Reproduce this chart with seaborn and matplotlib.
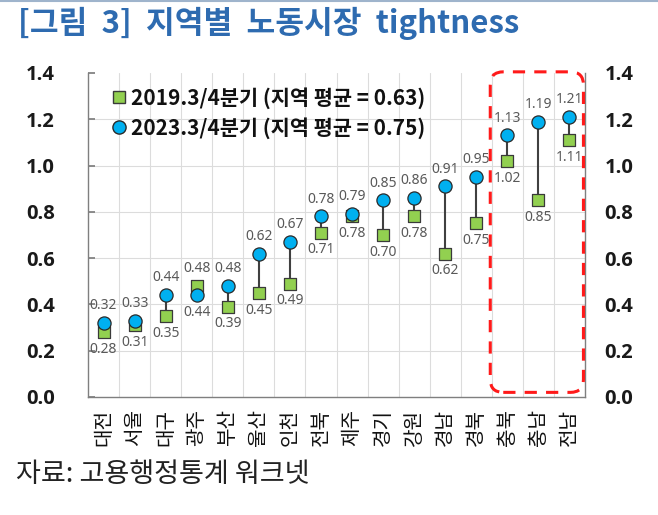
import matplotlib
matplotlib.use("Agg")
import matplotlib.pyplot as plt
import seaborn as sns
import pandas as pd
import numpy as np
from matplotlib.patches import FancyBboxPatch
from matplotlib.lines import Line2D

regions = ["대전", "서울", "대구", "광주", "부산", "울산", "인천", "전북",
           "제주", "경기", "강원", "경남", "경북", "충북", "충남", "전남"]
v2019 = [0.28, 0.31, 0.35, 0.48, 0.39, 0.45, 0.49, 0.71,
         0.78, 0.70, 0.78, 0.62, 0.75, 1.02, 0.85, 1.11]
v2023 = [0.32, 0.33, 0.44, 0.44, 0.48, 0.62, 0.67, 0.78,
         0.79, 0.85, 0.86, 0.91, 0.95, 1.13, 1.19, 1.21]
legend_labels = ["2019.3/4분기 (지역 평균 = 0.63)", "2023.3/4분기 (지역 평균 = 0.75)"]
yticks = [0.0, 0.2, 0.4, 0.6, 0.8, 1.0, 1.2, 1.4]
highlight = ["충북", "충남", "전남"]
title = "[그림  3]  지역별  노동시장  tightness"
source = "자료: 고용행정통계 워크넷"

sns.set_theme(style="white")
plt.rcParams['font.family'] = ['Noto Sans CJK KR', 'DejaVu Sans']

df = pd.DataFrame({"region": regions, "v2019": v2019, "v2023": v2023})
df["x"] = np.arange(len(regions))

fig = plt.figure(figsize=(6.58, 5.15), dpi=100)
ax = fig.add_axes([88/658, 1-397/515, (585-88)/658, (397-73)/515])

ax.set_xlim(-0.5, len(regions)-0.5)
ax.set_ylim(0, 1.4)

# connectors
ax.vlines(df["x"], df[["v2019", "v2023"]].min(axis=1), df[["v2019", "v2023"]].max(axis=1),
          color="#404040", lw=1.5, zorder=2)

sns.scatterplot(data=df, x="x", y="v2019", marker="s", s=72, color="#92D050",
                edgecolor="#3a3a3a", linewidth=0.9, ax=ax, zorder=3, legend=False)
sns.scatterplot(data=df, x="x", y="v2023", marker="o", s=90, color="#00B0F0",
                edgecolor="#2a2a2a", linewidth=0.9, ax=ax, zorder=4, legend=False)

# data labels
for i, r in df.iterrows():
    hi, lo = (r.v2023, r.v2019) if r.v2023 >= r.v2019 else (r.v2019, r.v2023)
    ax.annotate(f"{hi:.2f}", (r.x, hi), xytext=(0, 7), textcoords="offset points",
                ha="center", va="bottom", fontsize=10, color="#595959", zorder=5,
                family=["Noto Sans", "DejaVu Sans"])
    ax.annotate(f"{lo:.2f}", (r.x, lo), xytext=(0, -7), textcoords="offset points",
                ha="center", va="top", fontsize=10, color="#595959", zorder=5,
                family=["Noto Sans", "DejaVu Sans"])

# grid
ax.set_yticks(yticks)
ax.set_yticklabels([f"{t:.1f}" for t in yticks])
ax.set_xticks(df["x"])
ax.set_xticklabels(df["region"], rotation=90, fontsize=14.5, color="#111111")
ax.grid(False)
for y in yticks[1:-1]:
    ax.axhline(y, color="#dcdcdc", lw=0.8, zorder=0)
for xb in np.arange(0.5, len(regions)-0.5):
    ax.axvline(xb, color="#dcdcdc", lw=0.8, zorder=0)

ax.set_xlabel("")
ax.set_ylabel("")
for side in ["left", "right", "bottom"]:
    ax.spines[side].set_visible(True)
    ax.spines[side].set_color("#7f7f7f")
    ax.spines[side].set_linewidth(1.0)
ax.spines["top"].set_visible(False)

tick_font = ["Open Sans", "DejaVu Sans"]
ax.tick_params(axis="y", which="major", direction="in", length=5, color="#7f7f7f",
               left=True, right=True, labelleft=True, labelright=False, pad=24)
ax.tick_params(axis="x", which="both", length=0, pad=9)
for lab in ax.get_yticklabels():
    lab.set_fontsize(14.5)
    lab.set_fontweight("bold")
    lab.set_family(tick_font)
    lab.set_color("#1a1a1a")

# right axis labels
ax2 = ax.twinx()
ax2.set_ylim(ax.get_ylim())
ax2.set_yticks(yticks)
ax2.set_yticklabels([f"{t:.1f}" for t in yticks])
ax2.tick_params(axis="y", length=0, pad=14)
ax2.grid(False)
for s in ax2.spines.values():
    s.set_visible(False)
for lab in ax2.get_yticklabels():
    lab.set_fontsize(14.5)
    lab.set_fontweight("bold")
    lab.set_family(tick_font)
    lab.set_color("#1a1a1a")

# legend
handles = [Line2D([], [], marker="s", ls="", markersize=8.5, markerfacecolor="#92D050",
                  markeredgecolor="#3a3a3a"),
           Line2D([], [], marker="o", ls="", markersize=9.5, markerfacecolor="#00B0F0",
                  markeredgecolor="#2a2a2a")]
leg = ax.legend(handles, legend_labels, loc="upper left", bbox_to_anchor=(0.005, 1.015),
                frameon=False, handletextpad=0.15, handlelength=0.9, labelspacing=0.4,
                prop={"size": 15, "weight": "bold", "family": ["Noto Sans CJK KR"]})
for t in leg.get_texts():
    t.set_color("#111111")

# highlight box
fig.canvas.draw()
idx = [regions.index(h) for h in highlight]
x0 = min(idx) - 0.55
x1 = max(idx) + 0.45
(px0, py0) = ax.transData.transform((x0, 0.02))
(px1, py1) = ax.transData.transform((x1, 1.405))
inv = fig.dpi_scale_trans.inverted()
(ix0, iy0) = inv.transform((px0, py0))
(ix1, iy1) = inv.transform((px1, py1))
box = FancyBboxPatch((ix0, iy0), ix1-ix0, iy1-iy0,
                     boxstyle="round,pad=0,rounding_size=0.13",
                     transform=fig.dpi_scale_trans, fill=False, edgecolor="#ff1a1a",
                     lw=2.2, ls=(0, (4, 3)), zorder=10, clip_on=False)
fig.add_artist(box)

# title, source, top line
fig.text(18/658, 1-23/515, title, fontsize=22.5, fontweight="bold", color="#2E6BB0",
         va="center", ha="left")
fig.text(16/658, 1-475/515, source, fontsize=19.5, color="#222222", va="center", ha="left")
fig.add_artist(Line2D([0, 1], [1-1/515, 1-1/515], color="#9fb4cc", lw=1.5,
                      transform=fig.transFigure))

fig.savefig("out.png", dpi=100)
